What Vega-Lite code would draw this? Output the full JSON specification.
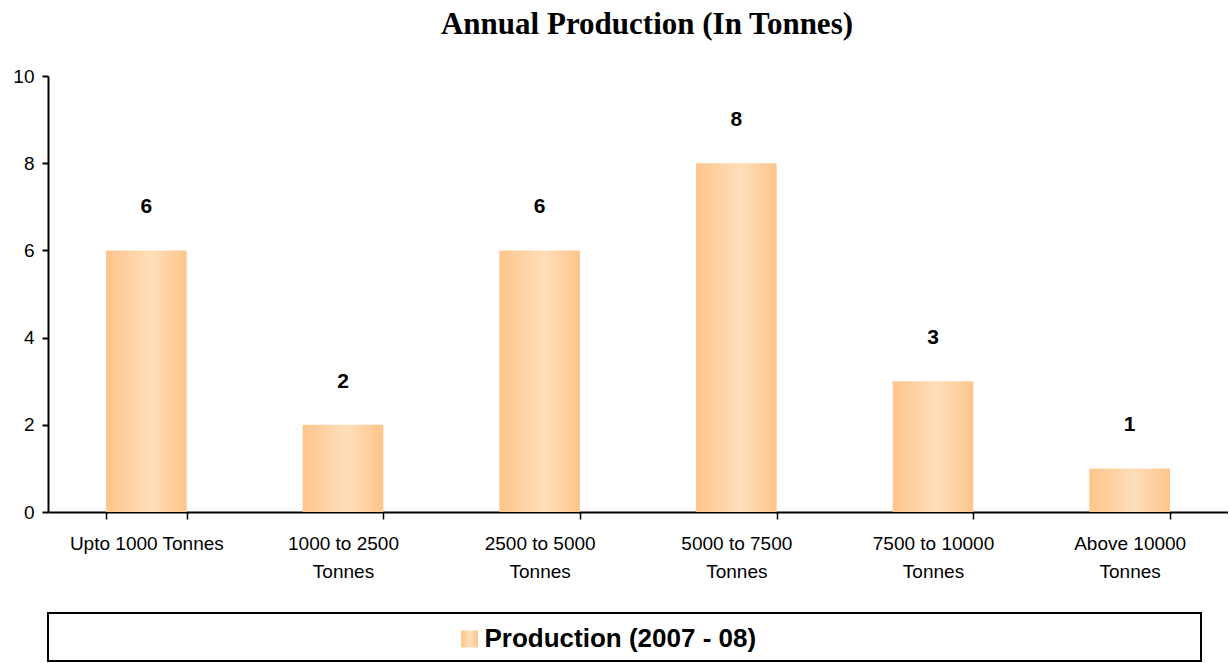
{
  "$schema": "https://vega.github.io/schema/vega-lite/v6.json",
  "padding": {"left": 12, "top": 9, "right": 0, "bottom": 0},
  "background": "white",
  "spacing": 101,
  "bounds": "flush",
  "config": {
    "font": "Liberation Sans",
    "axis": {"labelFont": "Liberation Sans", "labelColor": "black", "domainColor": "black", "tickColor": "black"}
  },
  "vconcat": [
    {
      "width": 1180,
      "height": 436,
      "view": {"stroke": null},
      "title": {
        "text": "Annual Production (In Tonnes)",
        "font": "Liberation Serif",
        "fontSize": 31,
        "fontWeight": "bold",
        "color": "black",
        "anchor": "middle",
        "baseline": "alphabetic",
        "offset": 2,
        "dx": 9
      },
      "data": {
        "values": [
          {"size_class": "Upto 1000 Tonnes", "units": 6, "series": "Production (2007 - 08)"},
          {"size_class": "1000 to 2500 Tonnes", "units": 2, "series": "Production (2007 - 08)"},
          {"size_class": "2500 to 5000 Tonnes", "units": 6, "series": "Production (2007 - 08)"},
          {"size_class": "5000 to 7500 Tonnes", "units": 8, "series": "Production (2007 - 08)"},
          {"size_class": "7500 to 10000 Tonnes", "units": 3, "series": "Production (2007 - 08)"},
          {"size_class": "Above 10000 Tonnes", "units": 1, "series": "Production (2007 - 08)"}
        ]
      },
      "encoding": {
        "x": {
          "field": "size_class",
          "type": "nominal",
          "sort": null,
          "scale": {"paddingInner": 0.59, "paddingOuter": 0.295},
          "axis": {
            "title": null,
            "labelAngle": 0,
            "labelFontSize": 19,
            "labelLineHeight": 28,
            "labelPadding": 15,
            "labelExpr": "!datum.label ? '' : (datum.label == 'Upto 1000 Tonnes' ? datum.label : [replace(datum.label, ' Tonnes', ''), 'Tonnes'])",
            "domainWidth": 2,
            "tickWidth": 1.5,
            "tickSize": 7,
            "tickBand": "extent",
            "labelLimit": 400
          }
        },
        "y": {
          "field": "units",
          "type": "quantitative",
          "scale": {"domain": [0, 10], "nice": false},
          "axis": {
            "title": null,
            "values": [0, 2, 4, 6, 8, 10],
            "grid": false,
            "labelFontSize": 19,
            "labelPadding": 8,
            "domainWidth": 2,
            "tickWidth": 2,
            "tickSize": 6
          }
        }
      },
      "layer": [
        {
          "mark": {
            "type": "bar",
            "color": {
              "gradient": "linear",
              "x1": 0, "y1": 0, "x2": 1, "y2": 0,
              "stops": [
                {"offset": 0, "color": "#FEC58B"},
                {"offset": 0.55, "color": "#FFDEBA"},
                {"offset": 1, "color": "#FEC58B"}
              ]
            }
          }
        },
        {
          "mark": {"type": "text", "fontSize": 21, "fontWeight": "bold", "color": "black", "baseline": "middle", "dy": -43},
          "encoding": {"text": {"field": "units", "type": "quantitative"}}
        }
      ]
    },
    {
      "width": 1153,
      "height": 48,
      "view": {"stroke": "black", "strokeWidth": 2, "fill": "white"},
      "data": {"values": [{"series": "Production (2007 - 08)"}]},
      "layer": [
        {
          "mark": {
            "type": "point",
            "shape": "square",
            "filled": true,
            "size": 289,
            "opacity": 1,
            "xOffset": -155,
            "yOffset": 2,
            "color": {
              "gradient": "linear",
              "x1": 0, "y1": 0, "x2": 1, "y2": 0,
              "stops": [
                {"offset": 0, "color": "#FEC58B"},
                {"offset": 0.55, "color": "#FFDEBA"},
                {"offset": 1, "color": "#FEC58B"}
              ]
            }
          },
          "encoding": {}
        },
        {
          "mark": {"type": "text", "fontSize": 26, "fontWeight": "bold", "color": "black", "align": "left", "baseline": "middle", "dx": -140, "dy": 2},
          "encoding": {"text": {"field": "series", "type": "nominal"}}
        }
      ]
    }
  ]
}
